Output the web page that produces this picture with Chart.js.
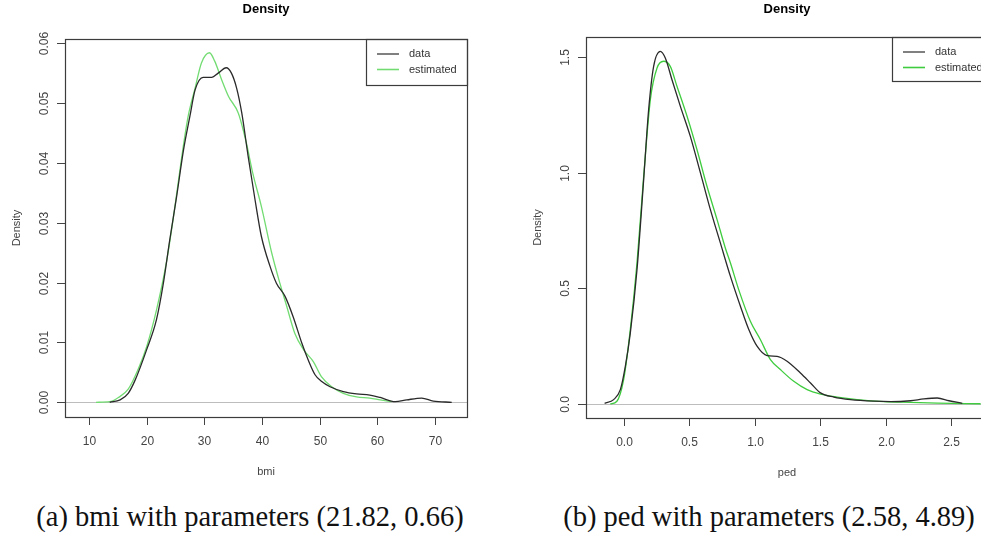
<!DOCTYPE html>
<html>
<head>
<meta charset="utf-8">
<script src="https://cdn.jsdelivr.net/npm/chart.js@4/dist/chart.umd.min.js"></script>
<style>
  html, body { margin: 0; padding: 0; background: #fff; width: 981px; height: 544px; overflow: hidden; }
  canvas { position: absolute; top: 0; }
  #bmiChart { left: 0; }
  #pedChart { left: 490px; }
  .cap { position: absolute; top: 501px; font-family: "Liberation Serif", serif; font-size: 28.5px; line-height: 32px; color: #111; white-space: nowrap; transform: translateX(-50%); }
</style>
</head>
<body>
<canvas id="bmiChart" width="490" height="490"></canvas>
<canvas id="pedChart" width="510" height="490"></canvas>
<div class="cap" style="left:250px">(a) bmi with parameters (21.82, 0.66)</div>
<div class="cap" style="left:769px">(b) ped with parameters (2.58, 4.89)</div>
<script>
"use strict";

// bmi panel
const bmiDataX = [13.6, 15.4, 16.8, 18.0, 20.0, 21.7, 22.9, 24.0, 25.2, 26.4, 27.5, 28.4, 29.8, 31.3, 32.4, 33.8, 34.7, 35.6, 36.5, 37.6, 38.8, 39.9, 41.4, 42.5, 44.0, 45.4, 46.9, 48.0, 49.2, 50.3, 51.8, 54.1, 56.4, 58.7, 60.5, 63.1, 65.1, 67.7, 69.7, 72.9];
const bmiDataY = [0, 0.0004, 0.0015, 0.0037, 0.0088, 0.0138, 0.0199, 0.0271, 0.0344, 0.0422, 0.0478, 0.0522, 0.0543, 0.0543, 0.0550, 0.0559, 0.0550, 0.0525, 0.0483, 0.0411, 0.0338, 0.0277, 0.0227, 0.0199, 0.0177, 0.0143, 0.0099, 0.0071, 0.0046, 0.0035, 0.0026, 0.0018, 0.0014, 0.0012, 0.0008, 0.0001, 0.0004, 0.0007, 0.0002, 0];
const bmiEstX = [11.2, 13.6, 15.1, 16.8, 18.6, 20.0, 21.7, 23.5, 24.9, 26.1, 27.2, 28.4, 29.5, 30.9, 31.8, 33.0, 34.2, 35.9, 37.3, 38.4, 39.9, 41.7, 43.1, 44.3, 45.7, 47.2, 48.9, 50.3, 52.1, 54.1, 56.4, 58.7, 60.5, 62.5];
const bmiEstY = [0, 0.0001, 0.0008, 0.0022, 0.0057, 0.0093, 0.0154, 0.0238, 0.0327, 0.0411, 0.0478, 0.0525, 0.0567, 0.0584, 0.0570, 0.0539, 0.0511, 0.0483, 0.0433, 0.0383, 0.0327, 0.0249, 0.0199, 0.0160, 0.0115, 0.0088, 0.0068, 0.0043, 0.0026, 0.0015, 0.0009, 0.0007, 0.0004, 0.0001];
const bmiXTicks = [10, 20, 30, 40, 50, 60, 70];
const bmiYTicks = [0, 0.01, 0.02, 0.03, 0.04, 0.05, 0.06];
const bmiYLabels = ['0.00', '0.01', '0.02', '0.03', '0.04', '0.05', '0.06'];

// ped panel
const pedDataX = [-0.145, -0.076, -0.025, 0.013, 0.051, 0.102, 0.153, 0.191, 0.229, 0.280, 0.318, 0.369, 0.433, 0.509, 0.586, 0.662, 0.738, 0.815, 0.891, 0.955, 1.018, 1.095, 1.171, 1.247, 1.349, 1.426, 1.502, 1.604, 1.731, 1.909, 2.037, 2.189, 2.291, 2.393, 2.482, 2.584];
const pedDataY = [0.003, 0.019, 0.062, 0.163, 0.307, 0.581, 0.971, 1.274, 1.461, 1.526, 1.497, 1.403, 1.288, 1.158, 1.000, 0.841, 0.697, 0.552, 0.423, 0.322, 0.250, 0.209, 0.206, 0.185, 0.134, 0.091, 0.048, 0.030, 0.019, 0.012, 0.010, 0.014, 0.022, 0.026, 0.014, 0.003];
const pedEstX = [-0.102, -0.051, 0, 0.051, 0.102, 0.153, 0.204, 0.255, 0.305, 0.356, 0.407, 0.484, 0.560, 0.636, 0.713, 0.776, 0.815, 0.878, 0.967, 1.044, 1.120, 1.196, 1.298, 1.400, 1.502, 1.629, 1.782, 1.986, 2.189, 2.393, 2.724];
const pedEstY = [0, 0.012, 0.105, 0.322, 0.610, 0.985, 1.317, 1.454, 1.483, 1.461, 1.375, 1.245, 1.100, 0.942, 0.798, 0.675, 0.610, 0.495, 0.358, 0.278, 0.192, 0.149, 0.098, 0.062, 0.043, 0.030, 0.019, 0.010, 0.007, 0.004, 0.001];
const pedXTicks = [0, 0.5, 1.0, 1.5, 2.0, 2.5];
const pedXLabels = ['0.0', '0.5', '1.0', '1.5', '2.0', '2.5'];
const pedYTicks = [0, 0.5, 1.0, 1.5];
const pedYLabels = ['0.0', '0.5', '1.0', '1.5'];

const seriesNames = ['data', 'estimated'];

function toPoints(xs, ys) {
	return xs.map((x, i) => ({x: x, y: ys[i]}));
}

// R-like frame, axes, titles and legend
const rFrame = {
	id: 'rFrame',
	beforeDatasetsDraw(chart, args, o) {
		const ctx = chart.ctx;
		const y = chart.scales.y;
		const a = chart.chartArea;
		const y0 = Math.round(y.getPixelForValue(0)) + 0.5;
		ctx.save();
		ctx.strokeStyle = '#bdbdbd';
		ctx.lineWidth = 1;
		ctx.beginPath();
		ctx.moveTo(a.left, y0);
		ctx.lineTo(a.right, y0);
		ctx.stroke();
		ctx.restore();
	},
	afterDraw(chart, args, o) {
		const ctx = chart.ctx;
		const a = chart.chartArea;
		const xs = chart.scales.x, ys = chart.scales.y;
		ctx.save();
		ctx.strokeStyle = '#3c3c3c';
		ctx.lineWidth = 1.2;
		ctx.strokeRect(Math.round(a.left) + 0.5, Math.round(a.top) + 0.5, Math.round(a.right - a.left), Math.round(a.bottom - a.top));

		ctx.fillStyle = '#444';
		ctx.strokeStyle = '#444';
		ctx.lineWidth = 1;
		ctx.font = '12px "Liberation Sans", Arial, sans-serif';
		ctx.textAlign = 'center';
		ctx.textBaseline = 'middle';
		o.xTicks.forEach((v, i) => {
			const px = Math.round(xs.getPixelForValue(v)) + 0.5;
			ctx.beginPath();
			ctx.moveTo(px, a.bottom);
			ctx.lineTo(px, a.bottom + 8);
			ctx.stroke();
			ctx.fillText(o.xLabels[i], px, a.bottom + 25);
		});
		o.yTicks.forEach((v, i) => {
			const py = Math.round(ys.getPixelForValue(v)) + 0.5;
			ctx.beginPath();
			ctx.moveTo(a.left, py);
			ctx.lineTo(a.left - 8, py);
			ctx.stroke();
			ctx.save();
			ctx.translate(a.left - 20, py);
			ctx.rotate(-Math.PI / 2);
			ctx.fillText(o.yLabels[i], 0, 0);
			ctx.restore();
		});

		// axis titles
		ctx.font = '11px "Liberation Sans", Arial, sans-serif';
		ctx.fillText(o.xTitle, (a.left + a.right) / 2, a.bottom + 55);
		ctx.save();
		ctx.translate(a.left - 48, (a.top + a.bottom) / 2);
		ctx.rotate(-Math.PI / 2);
		ctx.fillText('Density', 0, 0);
		ctx.restore();

		// main title
		ctx.fillStyle = '#000';
		ctx.font = 'bold 13px "Liberation Sans", Arial, sans-serif';
		ctx.fillText('Density', (a.left + a.right) / 2, 9);

		// legend
		const lx = o.legendLeft;
		ctx.strokeStyle = '#3c3c3c';
		ctx.lineWidth = 1.2;
		ctx.strokeRect(Math.round(lx) + 0.5, Math.round(a.top) + 0.5, Math.round(a.right - lx), o.legendHeight);
		ctx.font = '11px "Liberation Sans", Arial, sans-serif';
		ctx.textAlign = 'left';
		chart.data.datasets.forEach((ds, i) => {
			const ly = a.top + 15 + i * 15.5;
			ctx.strokeStyle = ds.borderColor;
			ctx.lineWidth = i === 0 ? 1.2 : 1.6;
			ctx.beginPath();
			ctx.moveTo(lx + 11, ly);
			ctx.lineTo(lx + 33, ly);
			ctx.stroke();
			ctx.fillStyle = '#333';
			ctx.fillText(ds.label, lx + 43, ly);
		});
		ctx.restore();
	}
};

function makeChart(id, cfg) {
	const lineOpts = {
		borderWidth: 1.3,
		pointRadius: 0,
		fill: false,
		cubicInterpolationMode: 'monotone'
	};
	return new Chart(document.getElementById(id), {
		type: 'line',
		data: {
			datasets: [
				Object.assign({label: seriesNames[0], data: cfg.data, borderColor: '#2a2a2a'}, lineOpts),
				Object.assign({label: seriesNames[1], data: cfg.est, borderColor: cfg.green}, lineOpts)
			]
		},
		options: {
			responsive: false,
			animation: false,
			layout: {padding: cfg.padding},
			scales: {
				x: {
					type: 'linear', min: cfg.xMin, max: cfg.xMax,
					ticks: {display: false}, grid: {display: false}, border: {display: false},
					afterFit: (s) => { s.height = 0; }
				},
				y: {
					min: cfg.yMin, max: cfg.yMax,
					ticks: {display: false}, grid: {display: false}, border: {display: false},
					afterFit: (s) => { s.width = 0; }
				}
			},
			plugins: {
				legend: {display: false},
				title: {display: false},
				tooltip: {enabled: false},
				rFrame: cfg.frame
			}
		},
		plugins: [rFrame]
	});
}

makeChart('bmiChart', {
	data: toPoints(bmiDataX, bmiDataY),
	est: toPoints(bmiEstX, bmiEstY),
	green: '#72dc72',
	xMin: 5.84, xMax: 75.55, yMin: -0.00246, yMax: 0.0607,
	padding: {left: 65, right: 23, top: 39, bottom: 73},
	frame: {
		xTicks: bmiXTicks, xLabels: bmiXTicks.map(String),
		yTicks: bmiYTicks, yLabels: bmiYLabels,
		xTitle: 'bmi', legendLeft: 366, legendHeight: 46
	}
});

makeChart('pedChart', {
	data: toPoints(pedDataX, pedDataY),
	est: toPoints(pedEstX, pedEstY),
	green: '#3fcc3f',
	xMin: -0.287, xMax: 2.78, yMin: -0.0606, yMax: 1.588,
	padding: {left: 96, right: 12, top: 37, bottom: 72},
	frame: {
		xTicks: pedXTicks, xLabels: pedXLabels,
		yTicks: pedYTicks, yLabels: pedYLabels,
		xTitle: 'ped', legendLeft: 402, legendHeight: 44
	}
});
</script>
</body>
</html>
